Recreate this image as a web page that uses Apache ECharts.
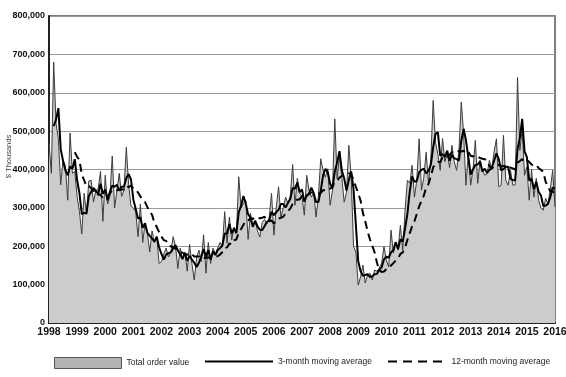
<!DOCTYPE html>
<html><head><meta charset="utf-8">
<script src="https://cdn.jsdelivr.net/npm/echarts@6/dist/echarts.min.js"></script>
<style>html,body{margin:0;padding:0;background:#fff}#c{width:566px;height:377px}</style>
</head><body><div id="c"></div>
<script>
// Year tick labels
const years = ['1998','1999','2000','2001','2002','2003','2004','2005','2006','2007','2008','2009','2010','2011','2012','2013','2014','2015','2016'];
// Monthly total order value, $ thousands (x1000 on axis scale), Jan 1998 .. Jan 2016
const totalOrderValue = [
470,390,680,520,480,360,425,410,320,495,390,395,
330,290,232,338,285,370,372,315,345,350,395,265,
385,310,330,435,300,345,390,330,345,458,360,305,
300,290,225,310,210,260,235,185,240,210,225,155,
160,180,195,172,185,225,200,142,195,165,185,135,
205,155,112,170,190,160,230,130,210,155,195,180,
195,210,200,290,208,276,216,250,235,381,300,312,
320,218,286,250,265,240,224,262,270,258,275,338,
229,300,355,276,300,328,312,330,413,307,377,338,
330,281,385,346,328,340,276,330,428,398,380,402,
307,345,532,376,437,380,315,341,463,380,200,185,
99,120,151,104,125,130,112,138,135,143,156,199,
164,146,242,182,208,190,255,190,294,372,364,411,
328,372,480,346,380,445,364,429,580,470,440,398,
481,420,445,405,463,420,398,450,576,493,359,442,
359,400,476,364,424,398,385,389,424,400,446,480,
355,359,489,372,359,398,359,360,640,450,505,385,
407,320,400,328,377,320,300,294,325,310,350,398,
302];
const movingAvg3 = [
null,null,513,530,560,453,422,398,385,408,402,427,
372,338,284,287,285,331,342,352,344,337,363,337,
348,320,342,358,355,360,345,355,355,378,388,374,
322,298,272,275,248,260,235,227,220,212,225,197,
180,165,178,182,184,194,203,189,179,167,182,162,
175,165,157,146,157,173,193,173,190,165,187,177,
190,195,202,233,233,258,233,247,234,289,305,331,
311,283,275,251,267,252,243,242,252,263,268,290,
281,289,295,310,310,301,313,323,352,350,366,341,
348,316,332,337,353,338,315,315,345,385,402,393,
363,351,395,418,448,398,377,345,373,395,348,255,
161,135,123,125,127,120,122,127,128,139,145,166,
173,170,184,190,211,193,218,212,246,285,343,382,
368,370,393,399,402,390,396,413,458,493,497,436,
440,433,449,423,438,429,427,423,475,506,476,431,
387,400,412,413,421,395,402,391,399,404,423,442,
427,398,401,407,407,376,372,372,453,483,532,447,
432,371,376,349,368,342,332,305,306,310,328,353,
350];
const movingAvg12 = [
null,null,null,null,null,null,null,null,null,null,null,445,
433,425,387,372,356,357,352,344,346,334,335,324,
329,330,338,346,348,346,347,348,348,357,354,358,
351,349,340,330,322,315,302,290,282,261,250,237,
225,216,214,202,200,197,194,191,187,183,180,178,
182,180,173,173,173,168,170,169,171,170,171,174,
174,178,185,195,197,207,205,215,218,236,245,256,
267,267,274,271,276,273,273,274,277,267,265,267,
260,266,272,274,277,285,292,298,310,314,322,322,
331,329,331,337,340,341,338,338,339,346,347,352,
350,355,368,370,379,383,386,387,390,388,373,355,
338,319,287,265,239,218,201,184,157,137,133,134,
140,142,150,156,163,168,180,184,197,217,234,252,
265,284,304,318,332,353,362,382,406,414,420,419,
432,436,433,438,445,443,446,448,447,449,442,446,
436,434,437,433,430,428,427,422,409,402,409,412,
412,408,409,410,405,405,403,400,418,422,427,419,
424,420,413,409,411,404,399,394,368,356,343,344,
335];
const seriesNames = ['Total order value','3-month moving average','12-month moving average'];

const months = [];
years.forEach((y, i) => {
  const n = i === years.length - 1 ? 1 : 12;
  for (let m = 1; m <= n; m++) months.push(y + '-' + String(m).padStart(2, '0'));
});
const scale = a => a.map(v => v == null ? null : v * 1000);
const FONT = "'Liberation Sans',Arial,sans-serif";
const DASH_ICON = 'path://M0,0h9v2h-9z M15,0h9v2h-9z M30,0h9v2h-9z M45,0h9v2h-9z';
const legendText = {fontFamily: FONT, fontSize: 8.5, color: '#222'};

const chart = echarts.init(document.getElementById('c'), null, {renderer: 'canvas'});
chart.setOption({
  animation: false,
  backgroundColor: '#fff',
  grid: {left: 49, right: 11, top: 16, bottom: 54, show: true, borderColor: '#555', borderWidth: 1.5,
         containLabel: false, outerBoundsMode: 'none'},
  legend: [
    {left: 54, top: 357, padding: 0, itemWidth: 67, itemHeight: 11, itemGap: 0, textStyle: legendText,
     data: [{name: seriesNames[0], icon: 'rect', itemStyle: {color: '#b3b3b3', borderColor: '#555', borderWidth: 1}}]},
    {left: 205, top: 357, padding: 0, itemWidth: 68, itemHeight: 2, itemGap: 0, textStyle: legendText,
     data: [{name: seriesNames[1], icon: 'rect', itemStyle: {color: '#000', borderWidth: 0}}]},
    {left: 388, top: 357, padding: 0, itemWidth: 63, itemHeight: 2, itemGap: 0, textStyle: legendText,
     data: [{name: seriesNames[2], icon: DASH_ICON, itemStyle: {color: '#000', borderWidth: 0}}]}
  ],
  xAxis: {
    type: 'category', data: months, boundaryGap: false,
    axisLine: {lineStyle: {color: '#222', width: 2}},
    axisTick: {show: false},
    axisLabel: {
      interval: (idx) => idx % 12 === 0,
      formatter: v => v.slice(0, 4),
      fontFamily: FONT, fontWeight: 'bold', fontSize: 10.5, color: '#111', margin: 4
    },
    splitLine: {show: false}
  },
  yAxis: {
    type: 'value', min: 0, max: 800000, interval: 100000,
    name: '$ Thousands', nameLocation: 'middle', nameGap: 36, nameMoveOverlap: false,
    nameTextStyle: {fontFamily: FONT, fontSize: 7.5, color: '#444', padding: [0, 0, 0, 26]},
    axisLine: {show: true, lineStyle: {color: '#222', width: 2}},
    axisTick: {show: false},
    axisLabel: {formatter: v => v.toLocaleString('en-US'), fontFamily: FONT, fontWeight: 'bold', fontSize: 9, color: '#111', margin: 4},
    splitLine: {lineStyle: {color: '#9a9a9a', width: 1}}
  },
  series: [
    {name: seriesNames[0], type: 'line', data: scale(totalOrderValue), symbol: 'none',
     lineStyle: {color: '#3c3c3c', width: 1}, itemStyle: {color: '#b3b3b3'},
     areaStyle: {color: '#cccccc', opacity: 1}, z: 2},
    {name: seriesNames[1], type: 'line', data: scale(movingAvg3), symbol: 'none',
     lineStyle: {color: '#000', width: 2}, itemStyle: {color: '#000'}, z: 4},
    {name: seriesNames[2], type: 'line', data: scale(movingAvg12), symbol: 'none',
     lineStyle: {color: '#000', width: 2, type: [8, 5]}, itemStyle: {color: '#000'}, z: 3}
  ]
});
</script></body></html>
